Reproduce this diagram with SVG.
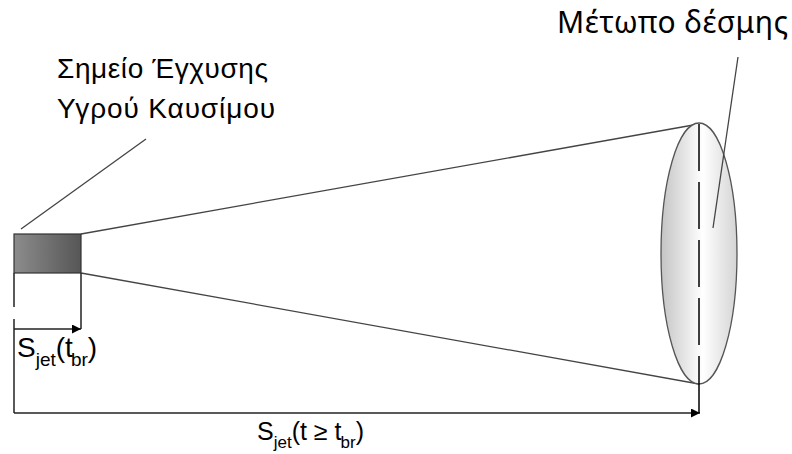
<svg xmlns="http://www.w3.org/2000/svg" width="792" height="454" viewBox="0 0 792 454">
<defs>
<linearGradient id="gRect" x1="0" y1="0" x2="1" y2="0">
<stop offset="0" stop-color="#8c8c8c"/>
<stop offset="1" stop-color="#565656"/>
</linearGradient>
<linearGradient id="gEll" x1="0" y1="0" x2="1" y2="0">
<stop offset="0" stop-color="#c4c4c4"/>
<stop offset="0.55" stop-color="#ffffff"/>
<stop offset="1" stop-color="#d4d4d4"/>
</linearGradient>
<marker id="arr" viewBox="0 0 10 10" refX="10" refY="5" markerWidth="9" markerHeight="9" markerUnits="userSpaceOnUse" orient="auto">
<path d="M0,0 L10,5 L0,10 z" fill="#000"/>
</marker>
</defs>
<style>
.ln{stroke:#222;stroke-width:1.5;fill:none}
.thin{stroke:#444;stroke-width:1.3;fill:none}
.lbl{font-family:"Liberation Sans",Arial,sans-serif;fill:#000}
.gr{font-family:"Noto Sans","Open Sans",sans-serif;fill:#000}
</style>
<rect width="792" height="454" fill="#fff"/>
<g id="connectors">
<line class="thin" x1="81" y1="234" x2="699" y2="124"/>
<line class="thin" x1="81" y1="273" x2="699" y2="384"/>
<line class="thin" x1="146" y1="139" x2="21" y2="229"/>
<line class="ln" x1="14" y1="273" x2="14" y2="307"/>
<line class="ln" x1="14" y1="319" x2="14" y2="413"/>
<line class="ln" x1="81" y1="273" x2="81" y2="329"/>
<line class="ln" x1="14" y1="329" x2="81" y2="329" marker-end="url(#arr)"/>
<line class="ln" x1="14" y1="413" x2="700" y2="413" marker-end="url(#arr)"/>
</g>
<g id="injector">
<rect x="14" y="234" width="67" height="39" fill="url(#gRect)" stroke="#333" stroke-width="1.2"/>
</g>
<g id="front">
<ellipse cx="699" cy="253.5" rx="38" ry="130.5" fill="url(#gEll)" stroke="#555" stroke-width="1.3"/>
<line x1="699" y1="124" x2="699" y2="384" stroke="#000" stroke-width="1.5" stroke-dasharray="47 11"/>
<line x1="699" y1="384" x2="699" y2="413" stroke="#000" stroke-width="1.5"/>
</g>
<g id="front-leader">
<line class="thin" x1="738" y1="57" x2="713" y2="228"/>
</g>
<g id="labels">
<text class="lbl" x="57" y="78" font-size="28" textLength="211">Σημείο Έγχυσης</text>
<text class="lbl" x="57" y="118" font-size="28" textLength="218">Υγρού Καυσίμου</text>
<text class="gr" x="557" y="33" font-size="30" textLength="231">Μέτωπο δέσμης</text>
<text class="lbl" x="17" y="357" font-size="28">S<tspan font-size="19" dy="9">jet</tspan><tspan dy="-9">(t</tspan><tspan font-size="19" dy="9" dx="-2">br</tspan><tspan dy="-9">)</tspan></text>
<text class="lbl" x="257" y="440" font-size="25">S<tspan font-size="17" dy="8">jet</tspan><tspan dy="-8">(t ≥ t</tspan><tspan font-size="17" dy="8" dx="-1">br</tspan><tspan dy="-8">)</tspan></text>
</g>
</svg>
